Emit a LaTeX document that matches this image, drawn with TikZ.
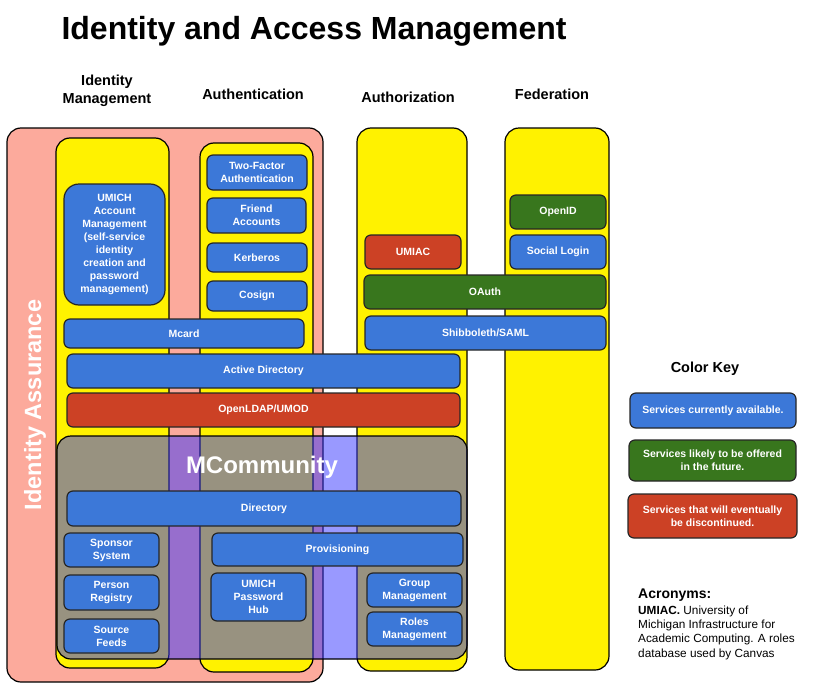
\documentclass[tikz,border=0pt]{standalone}
\usepackage{fontspec}
\setmainfont{Liberation Sans}
\usetikzlibrary{positioning}
\definecolor{availblue}{RGB}{60,120,216}
\definecolor{futuregreen}{RGB}{56,118,29}
\definecolor{legacyred}{RGB}{204,65,37}
\definecolor{assurpink}{RGB}{252,170,156}
\definecolor{mcblue}{RGB}{51,51,255}
\tikzstyle{column} = [rectangle,
                     rounded corners=14pt,
                     draw=black,
                     fill=yellow,
                     line width=1.2pt]
\tikzstyle{service} = [rectangle,
                      rounded corners=6pt,
                      align=center,
                      draw=black!85,
                      line width=1.2pt,
                      text=white,
                      inner sep=2pt,
                      font=\fontsize{10.5}{13}\selectfont\bfseries]
\tikzstyle{available} = [service, fill=availblue]
\tikzstyle{future} = [service, fill=futuregreen]
\tikzstyle{legacy} = [service, fill=legacyred]
\tikzstyle{header} = [align=center,
                     font=\fontsize{14.5}{18}\selectfont\bfseries]
\tikzset{boxsize/.style 2 args={minimum width=#1, minimum height=#2}}

\begin{document}
\begin{tikzpicture}[x=1pt, y=-1pt]
    \useasboundingbox (0,0) rectangle (819,696);
    % title and column heads
    \node (title) [anchor=west, font=\fontsize{32}{36}\selectfont\bfseries] at (58,31) {Identity and Access Management};
    \node (idmhead) [header] at (107,91) {Identity\\Management};
    \node (authnhead) [header] at (253,94) {Authentication};
    \node (authzhead) [header] at (408,97) {Authorization};
    \node (fedhead) [header] at (552,94) {Federation};
    % background areas
    \node (assurance) [boxsize={316}{554}, rounded corners=14pt, draw=black, line width=1.2pt, fill=assurpink] at (165,405) {};
    \node (assurtext) [rotate=90, text=white, font=\fontsize{23.5}{26}\selectfont\bfseries] at (35,405) {Identity Assurance};
    \node (idmcol) [column, boxsize={113}{530}] at (112.5,403) {};
    \node (authncol) [column, boxsize={113}{529}] at (256.5,407.5) {};
    \node (authzcol) [column, boxsize={110}{543}] at (412,399.5) {};
    \node (fedcol) [column, boxsize={104}{542}] at (557,399) {};
    % services above MCommunity
    \node (umichacct) [available, boxsize={101}{121}, rounded corners=15pt] at (114.5,244.5) {UMICH\\Account\\Management\\(self-service\\identity\\creation and\\password\\management)};
    \node (twofactor) [available, boxsize={100}{35}] at (257,172.5) {Two-Factor\\Authentication};
    \node (friend) [available, boxsize={99}{35}] at (256.5,215.5) {Friend\\Accounts};
    \node (kerberos) [available, boxsize={100}{29}] at (257,257.5) {Kerberos};
    \node (cosign) [available, boxsize={100}{30}] at (257,296) {Cosign};
    \node (mcard) [available, boxsize={240}{29}] at (184,333.5) {Mcard};
    \node (activedir) [available, boxsize={393}{34}] at (263.5,371) {Active Directory};
    \node (openldap) [legacy, boxsize={393}{34}] at (263.5,410) {OpenLDAP/UMOD};
    \node (umiac) [legacy, boxsize={96}{34}] at (413,252) {UMIAC};
    \node (oauth) [future, boxsize={242}{34}] at (485,292) {OAuth};
    \node (shibboleth) [available, boxsize={241}{34}] at (485.5,333) {Shibboleth/SAML};
    \node (openid) [future, boxsize={96}{34}] at (558,212) {OpenID};
    \node (social) [available, boxsize={96}{34}] at (558,252) {Social Login};
    % MCommunity
    \node (mcbox) [boxsize={410}{223}, rounded corners=14pt, draw=black, line width=1.2pt, fill=mcblue, fill opacity=0.5] at (262,547.5) {};
    \node (mctitle) [below=17pt of mcbox.north, text=white, font=\fontsize{24}{27}\selectfont\bfseries] {MCommunity};
    \node (directory) [available, boxsize={394}{35}] at (264,508.5) {Directory};
    \node (sponsor) [available, boxsize={95}{34}] at (111.5,550) {Sponsor\\System};
    \node (person) [available, boxsize={95}{35}] at (111.5,592.5) {Person\\Registry};
    \node (source) [available, boxsize={95}{34}] at (111.5,636) {Source\\Feeds};
    \node (provisioning) [available, boxsize={251}{33}] at (337.5,549.5) {Provisioning};
    \node (pwhub) [available, boxsize={95}{48}] at (258.5,597) {UMICH\\Password\\Hub};
    \node (group) [available, boxsize={95}{34}] at (414.5,590) {Group\\Management};
    \node (roles) [available, boxsize={95}{34}] at (414.5,629) {Roles\\Management};
    % color key
    \node (keyhead) [header] at (705,369) {Color Key};
    \node (keyblue) [available, boxsize={166}{35}] at (713,410.5) {Services currently available.};
    \node (keygreen) [future, boxsize={167}{41}] at (712.5,460.5) {Services likely to be offered\\in the future.};
    \node (keyred) [legacy, boxsize={169}{44}] at (712.5,516) {Services that will eventually\\be discontinued.};
    % acronyms
    \node (acrhead) [anchor=west, inner sep=0pt, font=\fontsize{14}{16}\selectfont\bfseries] at (638,595) {Acronyms:};
    \node (acrtext) [below=4pt of acrhead.south west, anchor=north west, inner sep=0pt, align=left, font=\fontsize{11.8}{14.3}\selectfont] {\textbf{UMIAC.} University of\\Michigan Infrastructure for\\Academic Computing. A roles\\database used by Canvas};
\end{tikzpicture}
\end{document}
